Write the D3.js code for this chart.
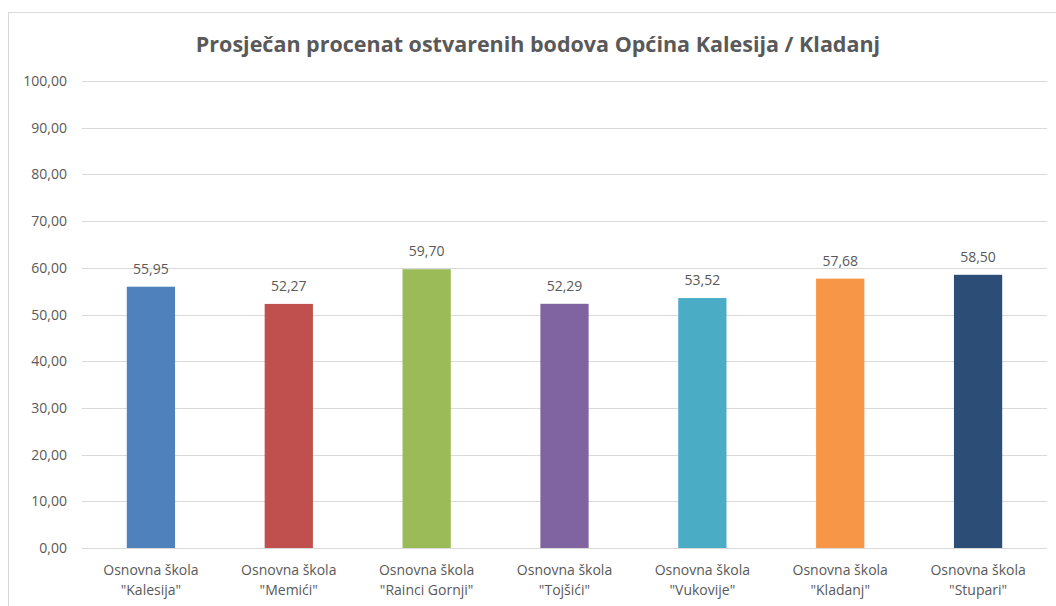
<!DOCTYPE html>
<html>
<head>
<meta charset="utf-8">
<script src="https://cdn.jsdelivr.net/npm/d3@7"></script>
<style>
  body { margin: 0; background: #fff; }
  svg text { font-family: "Open Sans", sans-serif; fill: #595959; }
</style>
</head>
<body>
<svg id="chart" width="1056" height="606"></svg>
<script>
const schools = ['Osnovna škola\n"Kalesija"', 'Osnovna škola\n"Memići"', 'Osnovna škola\n"Rainci Gornji"',
  'Osnovna škola\n"Tojšići"', 'Osnovna škola\n"Vukovije"', 'Osnovna škola\n"Kladanj"', 'Osnovna škola\n"Stupari"'];
const values = [55.95, 52.27, 59.70, 52.29, 53.52, 57.68, 58.50];
const colors = ["#4f81bd", "#c0504d", "#9bbb59", "#8064a2", "#4bacc6", "#f79646", "#2c4d75"];
const yTicks = [0, 10, 20, 30, 40, 50, 60, 70, 80, 90, 100];
const title = "Prosječan procenat ostvarenih bodova Općina Kalesija / Kladanj";

const svg = d3.select("#chart");
const fmt = v => v.toFixed(2).replace(".", ",");

// chart area border
svg.append("rect")
    .attr("x", 8.5).attr("y", 12.5)
    .attr("width", 1060).attr("height", 610)
    .attr("fill", "none").attr("stroke", "#d9d9d9");

const plotLeft = 82, plotRight = 1047, plotTop = 81, plotBottom = 548;

const x = d3.scaleBand().domain(schools).range([plotLeft, plotRight]).paddingInner(0.65).paddingOuter(0.325);
const y = d3.scaleLinear().domain([0, 100]).range([plotBottom, plotTop]);

svg.append("text")
    .attr("x", 538).attr("y", 52)
    .attr("text-anchor", "middle")
    .style("font-size", "21.5px").style("font-weight", "bold")
    .text(title);

// grid
svg.append("g").selectAll("line")
    .data(yTicks)
  .enter().append("line")
    .attr("x1", plotLeft).attr("x2", plotRight)
    .attr("y1", d => Math.round(y(d)) + 0.5).attr("y2", d => Math.round(y(d)) + 0.5)
    .attr("stroke", "#d9d9d9");

svg.append("g").selectAll("text")
    .data(yTicks)
  .enter().append("text")
    .attr("x", 67).attr("y", d => y(d) + 5)
    .attr("text-anchor", "end")
    .style("font-size", "14px")
    .text(fmt);

svg.append("g").selectAll("rect")
    .data(values)
  .enter().append("rect")
    .attr("x", (d, i) => x(schools[i]))
    .attr("width", x.bandwidth())
    .attr("y", d => y(d))
    .attr("height", d => plotBottom - y(d))
    .attr("fill", (d, i) => colors[i]);

svg.append("g").selectAll("text")
    .data(values)
  .enter().append("text")
    .attr("x", (d, i) => x(schools[i]) + x.bandwidth() / 2)
    .attr("y", d => y(d) - 13)
    .attr("text-anchor", "middle")
    .style("font-size", "14px")
    .text(fmt);

const xl = svg.append("g").selectAll("text")
    .data(schools)
  .enter().append("text")
    .attr("x", d => x(d) + x.bandwidth() / 2)
    .attr("y", 575)
    .attr("text-anchor", "middle")
    .style("font-size", "14px");
xl.selectAll("tspan")
    .data(d => d.split("\n").map(t => ({ t, c: x(d) + x.bandwidth() / 2 })))
  .enter().append("tspan")
    .attr("x", d => d.c)
    .attr("dy", (d, i) => i ? 20 : 0)
    .text(d => d.t);
</script>
</body>
</html>
